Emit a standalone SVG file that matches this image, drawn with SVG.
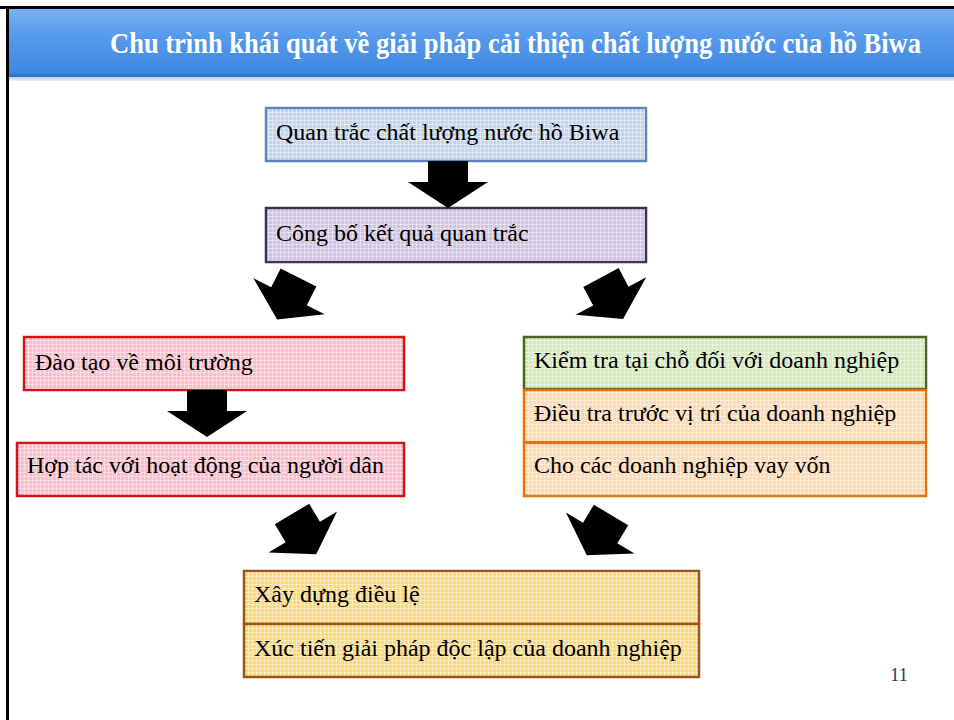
<svg xmlns="http://www.w3.org/2000/svg" width="954" height="720" viewBox="0 0 954 720">
  <defs>
    <linearGradient id="hdr" x1="0" y1="0" x2="0" y2="1">
      <stop offset="0" stop-color="#7ab4f2"/>
      <stop offset="0.35" stop-color="#5a9ced"/>
      <stop offset="1" stop-color="#3b87e0"/>
    </linearGradient>
    <linearGradient id="strip" x1="0" y1="0" x2="0" y2="1">
      <stop offset="0" stop-color="#2f78d0"/>
      <stop offset="0.45" stop-color="#2f78d0"/>
      <stop offset="0.5" stop-color="#c9d3de"/>
      <stop offset="1" stop-color="#eeeeee"/>
    </linearGradient>
    <!-- light grid laid over each box fill -->
    <pattern id="grid" width="4" height="4" patternUnits="userSpaceOnUse">
      <rect x="0" y="0" width="4" height="1" fill="#ffffff" fill-opacity="0.4"/>
      <rect x="0" y="0" width="1" height="4" fill="#ffffff" fill-opacity="0.4"/>
    </pattern>
    <!-- block arrow, shaft top centre at origin, pointing down -->
    <path id="arrow" d="M-20,0 L20,0 L20,21 L40,21 L0,47 L-40,21 L-20,21 Z"/>
  </defs>
  <style>
    .lbl { font-family: "Liberation Serif", "Times New Roman", serif; font-size: 24px; fill: #000000; }
    .box { stroke-width: 2.5; }
    .grid { fill: url(#grid); stroke: none; }
    .blue { fill: #c3d4eb; stroke: #5f84b8; }
    .purple { fill: #cfc4e2; stroke: #3f3151; }
    .pink { fill: #fbbccb; stroke: #d01515; }
    .green { fill: #d3eabb; stroke: #4f6228; }
    .orange { fill: #fdd8b0; stroke: #e8700e; }
    .yellow { fill: #fcd87c; stroke: #9c5418; }
    .arr { fill: #000000; }
  </style>

  <rect x="0" y="0" width="954" height="720" fill="#ffffff"/>

  <!-- slide frame -->
  <rect x="0" y="6" width="954" height="3" fill="#000000"/>
  <rect x="6" y="6" width="3" height="714" fill="#000000"/>

  <!-- title band -->
  <g id="title">
    <rect x="9" y="9" width="945" height="66" fill="url(#hdr)"/>
    <rect x="9" y="74" width="945" height="7" fill="url(#strip)"/>
    <text transform="translate(110,53) scale(1,1.22)" x="0" y="0" font-family="Liberation Serif, 'Times New Roman', serif" font-weight="bold" font-size="24" fill="#ffffff" textLength="811" lengthAdjust="spacingAndGlyphs">Chu trình khái quát về giải pháp cải thiện chất lượng nước của hồ Biwa</text>
  </g>

  <g id="monitor">
    <rect class="box blue" x="266" y="108" width="380" height="53"/>
    <rect class="grid" x="267" y="109" width="378" height="51"/>
    <text class="lbl" x="276" y="140">Quan trắc chất lượng nước hồ Biwa</text>
  </g>

  <g id="publish">
    <rect class="box purple" x="266" y="208" width="380" height="54"/>
    <rect class="grid" x="267" y="209" width="378" height="52"/>
    <text class="lbl" x="276" y="241">Công bố kết quả quan trắc</text>
  </g>

  <g id="training">
    <rect class="box pink" x="24" y="337" width="380" height="53"/>
    <rect class="grid" x="25" y="338" width="378" height="51"/>
    <text class="lbl" x="35" y="370">Đào tạo về môi trường</text>
  </g>

  <g id="citizens">
    <rect class="box pink" x="17" y="443" width="387" height="53"/>
    <rect class="grid" x="18" y="444" width="385" height="51"/>
    <text class="lbl" x="27" y="473">Hợp tác với hoạt động của người dân</text>
  </g>

  <g id="inspection">
    <rect class="box green" x="524" y="337" width="402" height="52"/>
    <rect class="grid" x="525" y="338" width="400" height="50"/>
    <text class="lbl" x="534" y="368">Kiểm tra tại chỗ đối với doanh nghiệp</text>
  </g>

  <g id="site-survey">
    <rect class="box orange" x="524" y="390" width="402" height="52"/>
    <rect class="grid" x="525" y="391" width="400" height="50"/>
    <text class="lbl" x="534" y="421">Điều tra trước vị trí của doanh nghiệp</text>
  </g>

  <g id="loans">
    <rect class="box orange" x="524" y="443" width="402" height="53"/>
    <rect class="grid" x="525" y="444" width="400" height="51"/>
    <text class="lbl" x="534" y="473">Cho các doanh nghiệp vay vốn</text>
  </g>

  <g id="regulation">
    <rect class="box yellow" x="244" y="571" width="455" height="53"/>
    <rect class="grid" x="245" y="572" width="453" height="51"/>
    <text class="lbl" x="254" y="602">Xây dựng điều lệ</text>
  </g>

  <g id="self-measures">
    <rect class="box yellow" x="244" y="624" width="455" height="53"/>
    <rect class="grid" x="245" y="625" width="453" height="51"/>
    <text class="lbl" x="254" y="656">Xúc tiến giải pháp độc lập của doanh nghiệp</text>
  </g>

  <!-- connectors: block arrows -->
  <g id="connectors" class="arr">
    <use href="#arrow" transform="translate(448,161)"/>
    <use href="#arrow" transform="translate(298.5,277.5) rotate(27)"/>
    <use href="#arrow" transform="translate(601,277.5) rotate(-28)"/>
    <use href="#arrow" transform="translate(207,390)"/>
    <use href="#arrow" transform="translate(292,514) rotate(-31)"/>
    <use href="#arrow" transform="translate(611,515) rotate(31)"/>
  </g>

  <text x="899" y="681" text-anchor="middle" font-family="Liberation Serif, 'Times New Roman', serif" font-size="18" fill="#1f3864">11</text>
</svg>
